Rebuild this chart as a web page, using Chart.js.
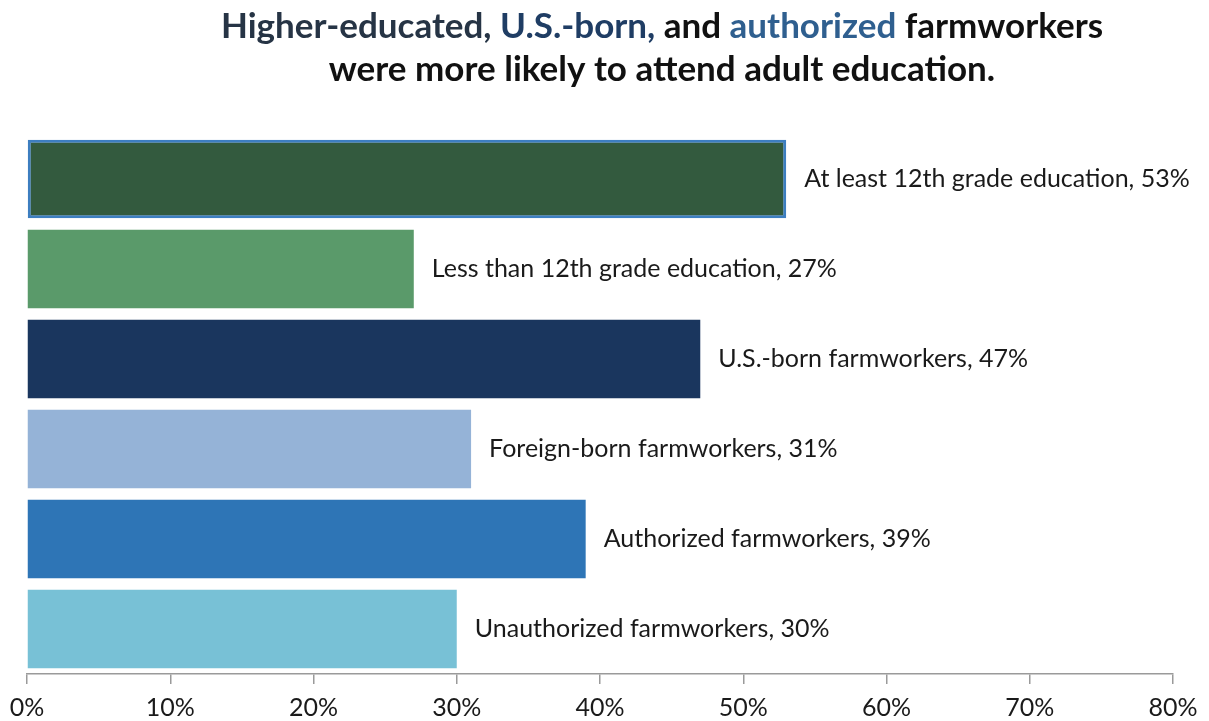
<!DOCTYPE html>
<html>
<head>
<meta charset="utf-8">
<script src="https://cdn.jsdelivr.net/npm/chart.js"></script>
<style>
  body { margin: 0; background: #fff; }
  #wrap { width: 1209px; height: 721px; position: relative; }
</style>
</head>
<body>
<div id="wrap"><canvas id="farmChart"></canvas></div>
<script>
// categories et valeurs (en %)
const categories = [
  'At least 12th grade education',
  'Less than 12th grade education',
  'U.S.-born farmworkers',
  'Foreign-born farmworkers',
  'Authorized farmworkers',
  'Unauthorized farmworkers'
];
const shares = [53, 27, 47, 31, 39, 30];
const barColors = ['#335a3e', '#5a9a6a', '#1a365e', '#95b3d7', '#2e75b6', '#78c1d6'];
const tickValues = [0, 10, 20, 30, 40, 50, 60, 70, 80];

// titre en plusieurs couleurs
const titleLines = [
  [['Higher-educated, ', '#263445'], ['U.S.-born,', '#1f3d64'], [' and ', '#111'], ['authorized', '#2f5f8f'], [' farmworkers', '#111']],
  [['were more likely to attend adult education.', '#111']]
];

const FONT = 'Lato, "Open Sans", sans-serif';

const titlePlugin = {
  id: 'multiTitle',
  afterDraw(chart) {
    const ctx = chart.ctx;
    ctx.save();
    ctx.font = 'bold 35px ' + FONT;
    ctx.textBaseline = 'middle';
    const cx = 662;
    const ys = [27, 70];
    titleLines.forEach((parts, i) => {
      const total = parts.reduce((s, p) => s + ctx.measureText(p[0]).width, 0);
      let x = cx - total / 2;
      parts.forEach(p => {
        ctx.fillStyle = p[1];
        ctx.textAlign = 'left';
        ctx.fillText(p[0], x, ys[i]);
        x += ctx.measureText(p[0]).width;
      });
    });
    ctx.restore();
  }
};

const barLabels = {
  id: 'barLabels',
  afterDatasetsDraw(chart) {
    const ctx = chart.ctx;
    const meta = chart.getDatasetMeta(0);
    ctx.save();
    ctx.font = '25px ' + FONT;
    ctx.fillStyle = '#1a1a1a';
    ctx.textBaseline = 'middle';
    ctx.textAlign = 'left';
    meta.data.forEach((bar, i) => {
      ctx.fillText(categories[i] + ', ' + shares[i] + '%', bar.x + 18, bar.y);
    });
    ctx.restore();
  }
};

const data = {
  labels: categories,
  datasets: [{
    data: shares,
    backgroundColor: barColors,
    borderColor: ['#3d7ec0', 'transparent', 'transparent', 'transparent', 'transparent', 'transparent'],
    borderWidth: [3, 0, 0, 0, 0, 0],
    borderSkipped: false,
    categoryPercentage: 0.87,
    barPercentage: 1.0
  }]
};

const config = {
  type: 'bar',
  data: data,
  options: {
    indexAxis: 'y',
    responsive: true,
    maintainAspectRatio: false,
    animation: false,
    layout: { padding: { top: 134, left: 27, right: 36, bottom: 0 } },
    plugins: {
      legend: { display: false },
      tooltip: { enabled: false },
      title: { display: false }
    },
    scales: {
      x: {
        min: 0,
        max: 80,
        afterBuildTicks: axis => { axis.ticks = tickValues.map(v => ({ value: v })); },
        afterFit: axis => {
          axis.height = 47;
          axis.paddingLeft = 0;
          axis.paddingRight = 0;
        },
        border: { display: true, color: '#9a9a9a', width: 1.5 },
        grid: {
          drawOnChartArea: false,
          drawTicks: true,
          tickLength: 10,
          color: '#9a9a9a',
          lineWidth: 1.5
        },
        ticks: {
          padding: 9,
          color: '#1a1a1a',
          font: { family: FONT, size: 25 },
          maxRotation: 0,
          callback: v => v + '%'
        }
      },
      y: {
        display: false
      }
    }
  },
  plugins: [titlePlugin, barLabels]
};

const initiateChart = () => {
  const ctx = document.getElementById('farmChart').getContext('2d');
  new Chart(ctx, config);
};

document.addEventListener('DOMContentLoaded', initiateChart);
</script>
</body>
</html>
